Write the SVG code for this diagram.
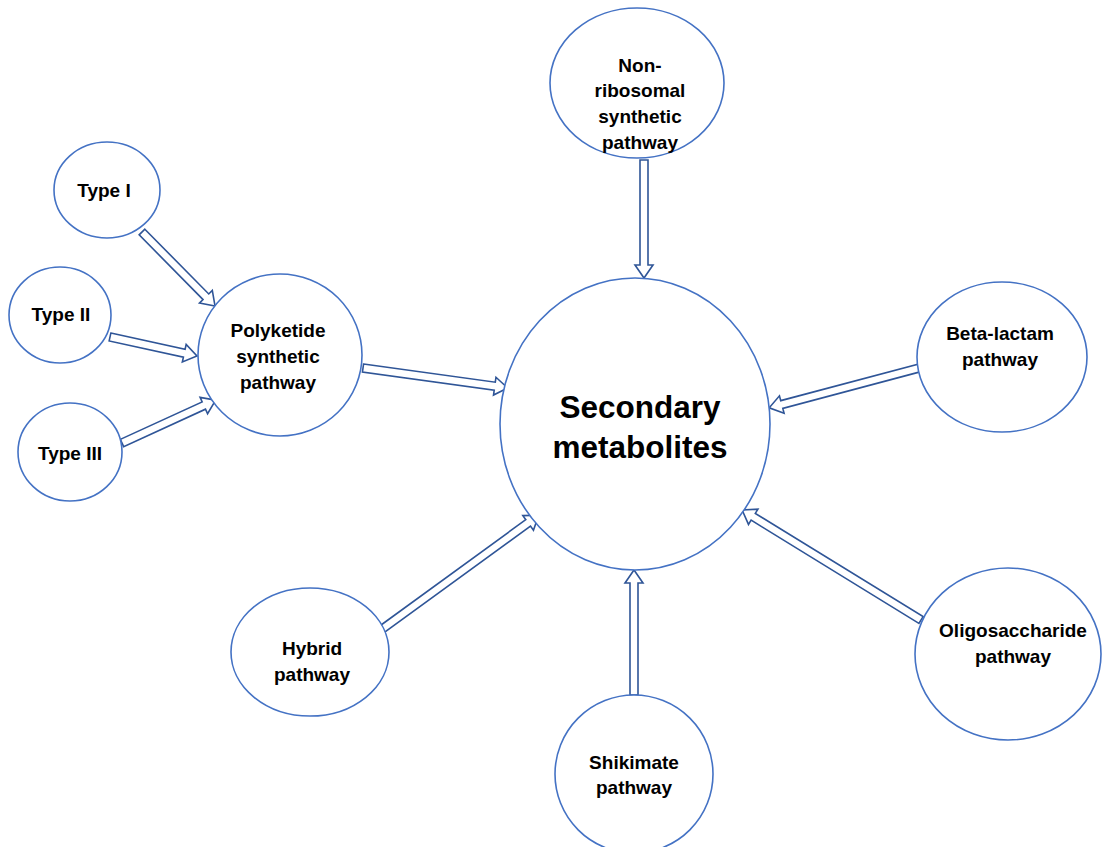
<svg xmlns="http://www.w3.org/2000/svg" width="1102" height="847" viewBox="0 0 1102 847">
<defs>
<style>
.n{fill:#fff;stroke:#4472C4;stroke-width:1.6}
.t{font-family:"Liberation Sans",Arial,sans-serif;font-weight:bold;font-size:19px;fill:#000;text-anchor:middle}
.big{font-size:31.5px}
.a{fill:#fff;stroke:#2F5597;stroke-width:1.6;stroke-linejoin:miter}
</style>
</defs>
<rect width="1102" height="847" fill="#fff"/>
<g id="connectors">
<polygon class="a" transform="translate(142,232) rotate(45.4)" points="0,-4 91,-4 91,-9 104,0 91,9 91,4 0,4"/>
<polygon class="a" transform="translate(110,337) rotate(12.3)" points="0,-4 76,-4 76,-9 89,0 76,9 76,4 0,4"/>
<polygon class="a" transform="translate(122,443) rotate(-24.6)" points="0,-4 90,-4 90,-9 103,0 90,9 90,4 0,4"/>
<polygon class="a" transform="translate(363,368) rotate(7.85)" points="0,-4 133,-4 133,-9 146,0 133,9 133,4 0,4"/>
<polygon class="a" transform="translate(644,160) rotate(90)" points="0,-4 105,-4 105,-9 118,0 105,9 105,4 0,4"/>
<polygon class="a" transform="translate(919,368) rotate(165.1)" points="0,-4 142,-4 142,-9 155,0 142,9 142,4 0,4"/>
<polygon class="a" transform="translate(921,620) rotate(211.6)" points="0,-4 197,-4 197,-9 210,0 197,9 197,4 0,4"/>
<polygon class="a" transform="translate(634,695) rotate(-90)" points="0,-4 112,-4 112,-9 125,0 112,9 112,4 0,4"/>
<polygon class="a" transform="translate(381,630) rotate(-36.05)" points="0,-4 182,-4 182,-9 195,0 182,9 182,4 0,4"/>
</g>
<g id="type1"><ellipse class="n" cx="107" cy="190" rx="53" ry="48"/><text class="t" x="104" y="197">Type I</text></g>
<g id="type2"><ellipse class="n" cx="60" cy="315" rx="51" ry="48"/><text class="t" x="61" y="321">Type II</text></g>
<g id="type3"><ellipse class="n" cx="70" cy="452" rx="52" ry="49"/><text class="t" x="70" y="460">Type III</text></g>
<g id="polyketide"><ellipse class="n" cx="280" cy="355" rx="82" ry="81"/><text class="t" x="278" y="337">Polyketide</text><text class="t" x="278" y="363">synthetic</text><text class="t" x="278" y="389">pathway</text></g>
<g id="nonribosomal"><ellipse class="n" cx="637" cy="83" rx="87" ry="75"/><text class="t" x="640" y="72">Non-</text><text class="t" x="640" y="97">ribosomal</text><text class="t" x="640" y="123">synthetic</text><text class="t" x="640" y="149">pathway</text></g>
<g id="secondary"><ellipse class="n" cx="635" cy="424" rx="135" ry="146"/><text class="t big" x="640" y="418">Secondary</text><text class="t big" x="640" y="458">metabolites</text></g>
<g id="betalactam"><ellipse class="n" cx="1002" cy="357" rx="85" ry="75"/><text class="t" x="1000" y="340">Beta-lactam</text><text class="t" x="1000" y="366">pathway</text></g>
<g id="oligosaccharide"><ellipse class="n" cx="1008" cy="654" rx="93" ry="86"/><text class="t" x="1013" y="637">Oligosaccharide</text><text class="t" x="1013" y="663">pathway</text></g>
<g id="shikimate"><ellipse class="n" cx="634" cy="774" rx="79" ry="79"/><text class="t" x="634" y="769">Shikimate</text><text class="t" x="634" y="794">pathway</text></g>
<g id="hybrid"><ellipse class="n" cx="310" cy="652" rx="79" ry="64"/><text class="t" x="312" y="655">Hybrid</text><text class="t" x="312" y="681">pathway</text></g>
</svg>
